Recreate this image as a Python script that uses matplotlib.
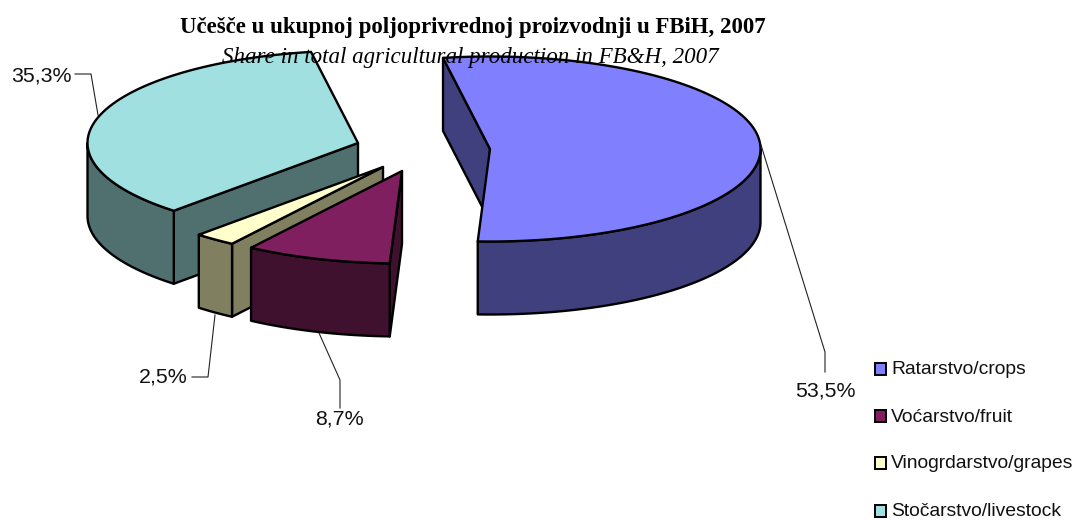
import numpy as np
from matplotlib import pyplot as plt

labels = ['Ratarstvo/crops', 'Voćarstvo/fruit', 'Vinogrdarstvo/grapes', 'Stočarstvo/livestock']
values = [53.5, 8.7, 2.5, 35.3]
value_labels = ['53,5%', '8,7%', '2,5%', '35,3%']
top_colors = ['#8080FF', '#7F1F5F', '#FFFFCC', '#A0E0E0']
side_colors = ['#40407F', '#40102F', '#808060', '#507070']

# exploded slice centres, in pixels
centres = [(490, 149), (402, 171), (383, 167), (358, 143)]
START = 350.0
RX, RY, DEPTH = 270.5, 92.5, 73
LW = 1.7

fig = plt.figure(figsize=(10.75, 5.2), dpi=100)
ax = fig.add_axes([0, 0, 1, 1])
ax.set_xlim(0, 1075)
ax.set_ylim(520, 0)
ax.axis('off')


def rim(c, deg):
    t = np.radians(deg)
    return c[0] + RX * np.sin(t), c[1] - RY * np.cos(t)


def face(xs, ys, color, z):
    ax.fill(xs, ys, facecolor=color, edgecolor='black', linewidth=LW, joinstyle='round', zorder=z)


def draw_slice(c, a0, a1, top, side, z):
    # radial walls first, then the outer wall, the top goes last
    for a, sign in ((a0, -1), (a1, 1)):
        if np.sin(np.radians(a)) * sign > 0:
            x, y = rim(c, a)
            face([c[0], x, x, c[0]], [c[1], y, y + DEPTH, c[1] + DEPTH], side, z)
    lo, hi = max(a0, 90), min(a1, 270)
    if hi > lo:
        t = np.linspace(lo, hi, 80)
        x, y = rim(c, t)
        face(np.r_[x, x[::-1]], np.r_[y, y[::-1] + DEPTH], side, z)
    t = np.linspace(a0, a1, 200)
    x, y = rim(c, t)
    face(np.r_[c[0], x], np.r_[c[1], y], top, z + 0.5)


angles = START - 360 + np.r_[0, np.cumsum(values)] * 3.6
order = [3, 2, 1, 0]
for i in order:
    draw_slice(centres[i], angles[i], angles[i + 1], top_colors[i], side_colors[i], 2 + order.index(i))

# leader lines
leaders = [
    ([761, 825, 825], [145, 352, 372]),
    ([319, 340, 340], [333, 380, 408]),
    ([215, 208, 192], [315, 377, 377]),
    ([75, 91, 98], [74, 74, 115]),
]
for x, y in leaders:
    ax.plot(x, y, color='#222222', linewidth=0.8, zorder=8)

label_pos = [(825, 391), (339, 419), (163, 377), (41, 76)]
for text, (x, y) in zip(value_labels, label_pos):
    ax.text(x, y, text, ha='center', va='center', fontsize=15.4,
            family='Liberation Sans', color='#111111', zorder=9)

# legend
legend_y = [369, 416, 463, 511]
for text, color, y in zip(labels, top_colors, legend_y):
    ax.fill([875, 886, 886, 875], [y - 6, y - 6, y + 6, y + 6], facecolor=color,
            edgecolor='black', linewidth=1.4, zorder=9)
    ax.text(891, y + 1, text, ha='left', va='center', fontsize=13.9,
            family='Liberation Sans', color='#111111', zorder=9)

ax.text(473, 27, 'Učešče u ukupnoj poljoprivrednoj proizvodnji u FBiH, 2007',
        ha='center', va='center', fontsize=16.45, fontweight='bold',
        family='Liberation Serif', color='black', zorder=10)
ax.text(470, 57, 'Share in total agricultural production in FB&H, 2007', ha='center', va='center',
        fontsize=16.6, fontstyle='italic', family='Liberation Serif', color='black', zorder=10)

fig.savefig('out.png', dpi=100)
